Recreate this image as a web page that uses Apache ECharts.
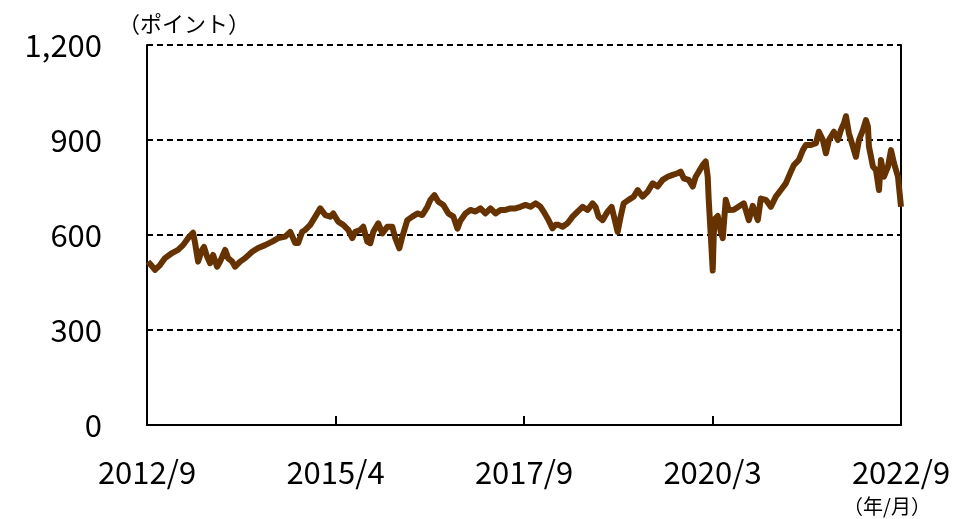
<!DOCTYPE html>
<html>
<head>
<meta charset="utf-8">
<script src="https://cdn.jsdelivr.net/npm/echarts@6/dist/echarts.min.js"></script>
<style>
  html, body { margin: 0; padding: 0; background: #fff; }
  #chart { width: 979px; height: 519px; }
</style>
</head>
<body>
<div id="chart"></div>
<script>
// months elapsed since 2012/9
var months = [
  0.16,0.64,1.27,2.07,2.87,3.98,4.94,5.74,6.53,7.33,
  7.65,8.13,8.76,9.08,9.56,10.04,10.52,11.16,11.63,12.43,
  12.91,13.55,14.02,14.82,15.62,16.73,17.69,18.80,19.92,20.88,
  21.99,22.79,23.59,24.06,24.70,25.18,25.98,26.78,27.57,28.37,
  29.17,29.64,30.44,31.23,32.03,32.67,33.15,33.94,34.42,35.06,
  35.54,36.02,36.81,37.45,38.25,39.04,39.52,40.16,40.64,41.43,
  42.23,43.03,43.82,44.62,45.10,45.74,46.37,47.17,47.97,48.76,
  49.40,49.88,50.68,51.47,52.27,53.07,53.86,54.66,55.46,56.25,
  57.05,57.85,58.64,59.44,60.24,61.04,61.83,62.63,63.11,63.90,
  64.54,65.02,65.50,66.14,66.93,67.73,68.53,69.32,70.12,70.92,
  71.39,71.87,72.51,73.31,73.94,74.42,74.90,75.38,75.86,76.65,
  77.45,78.09,78.88,79.68,80.48,81.27,82.07,82.87,83.66,84.46,
  84.94,85.42,86.21,86.85,87.33,87.81,88.45,88.92,89.24,89.40,
  89.72,90.04,90.20,90.36,90.84,91.32,91.63,92.11,92.59,93.39,
  94.18,94.98,95.78,96.41,97.21,97.69,98.49,99.28,100.08,100.88,
  101.67,102.47,102.95,103.75,104.38,104.86,105.66,106.46,106.93,107.57,
  108.05,108.53,109.32,109.96,110.44,110.92,111.24,111.71,112.35,112.83,
  113.31,113.95,114.42,114.74,114.90,115.54,116.02,116.50,116.81,117.29,
  117.93,118.41,118.89,119.52,120.00
];
// index level (points)
var values = [
  516,505,490,505,527,543,553,568,590,607,
  575,516,553,562,532,511,537,500,516,553,
  527,516,500,516,527,547,559,568,579,590,
  595,610,575,575,610,616,632,658,684,663,
  658,668,642,632,616,590,610,616,626,579,
  574,610,637,605,626,626,590,558,595,647,
  658,668,663,689,711,726,705,695,668,658,
  620,645,668,679,674,684,668,684,668,679,
  679,684,684,689,695,689,700,689,674,647,
  621,632,632,626,637,658,674,689,679,700,
  689,658,647,674,689,650,610,658,700,711,
  721,742,721,737,763,753,774,784,790,795,
  800,779,774,753,784,800,821,832,784,711,
  600,488,600,650,660,610,590,711,679,680,
  690,700,647,692,647,715,711,689,721,742,
  763,800,821,837,868,884,884,890,926,900,
  858,900,926,900,932,953,975,921,879,847,
  900,932,963,942,879,816,805,742,837,784,
  816,868,826,784,689
];
var tickMonths = [0, 30, 60, 90, 120];
var tickLabels = ['2012/9', '2015/4', '2017/9', '2020/3', '2022/9'];
var yTicks = [0, 300, 600, 900, 1200];

var seriesData = months.map(function (m, i) { return [m, values[i]]; });
var font = '"Noto Sans CJK JP", "Noto Sans", sans-serif';

var myChart = echarts.init(document.getElementById('chart'));
var option = {
  backgroundColor: '#fff',
  animation: false,
  textStyle: { fontFamily: font },
  grid: { left: 147, right: 78, top: 45, bottom: 94 },
  graphic: [
    { type: 'text', x: 184, y: 24,
      style: { text: '（ポイント）', font: '22px ' + font, fill: '#000', align: 'center', verticalAlign: 'middle' } },
    { type: 'text', x: 887, y: 506,
      style: { text: '（年/月）', font: '20px ' + font, fill: '#000', align: 'center', verticalAlign: 'middle' } }
  ],
  xAxis: {
    type: 'value',
    min: 0, max: 120, interval: 30,
    axisLine: { show: true, lineStyle: { color: '#000', width: 2 } },
    axisTick: { show: true, inside: true, length: 9, lineStyle: { color: '#000', width: 2 } },
    axisLabel: {
      color: '#000', fontSize: 31, margin: 32, fontFamily: font,
      formatter: function (v) { var k = tickMonths.indexOf(v); return k >= 0 ? tickLabels[k] : ''; }
    },
    splitLine: { show: false }
  },
  yAxis: [{
    type: 'value',
    min: yTicks[0], max: yTicks[yTicks.length - 1], interval: 300,
    axisLine: { show: true, lineStyle: { color: '#000', width: 2 } },
    axisTick: { show: false },
    axisLabel: {
      color: '#000', fontSize: 31, margin: 45, fontFamily: font,
      formatter: function (v) { return v.toLocaleString('en-US'); }
    },
    splitLine: { show: true, lineStyle: { color: '#000', type: [6, 4], width: 2 } }
  }, {
    type: 'value', position: 'right',
    min: 0, max: 1200, interval: 300,
    axisLine: { show: true, lineStyle: { color: '#000', width: 2 } },
    axisTick: { show: false }, axisLabel: { show: false }, splitLine: { show: false }
  }],
  series: [{
    type: 'line',
    data: seriesData,
    showSymbol: false,
    symbol: 'none',
    lineStyle: { color: '#663300', width: 6, join: 'round' },
    itemStyle: { color: '#663300' }
  }]
};
myChart.setOption(option);
</script>
</body>
</html>
